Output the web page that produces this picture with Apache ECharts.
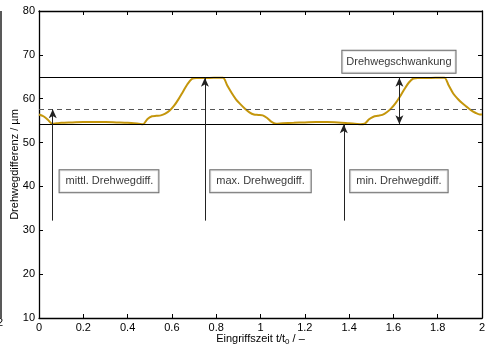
<!DOCTYPE html>
<html><head><meta charset="utf-8">
<script src="https://cdn.jsdelivr.net/npm/echarts@6/dist/echarts.min.js"></script>
<style>html,body{margin:0;padding:0;background:#fff}#c{width:486px;height:349px}</style>
</head><body><div id="c"></div>
<script>
// Curve: Eingriffszeit t/t0 and Drehwegdifferenz (µm)
const tVals = [0.00,0.02,0.04,0.06,0.08,0.10,0.15,0.20,0.25,0.30,0.35,0.40,0.45,0.47,0.49,0.51,0.53,0.55,0.57,0.59,0.61,0.63,0.65,0.67,0.69,0.71,0.75,0.79,0.83,0.85,0.87,0.89,0.91,0.93,0.95,0.97,0.99,1.01,1.03,1.05,1.07,1.10,1.15,1.20,1.25,1.30,1.35,1.40,1.45,1.47,1.49,1.51,1.53,1.55,1.57,1.59,1.61,1.63,1.65,1.67,1.69,1.71,1.75,1.79,1.83,1.85,1.87,1.89,1.91,1.93,1.95,1.97,1.99,2.00];
const dVals = [56.4,56.0,55.2,54.3,54.4,54.5,54.6,54.7,54.7,54.7,54.6,54.5,54.3,54.2,55.4,56.0,56.1,56.2,56.6,57.3,58.4,59.9,61.6,63.3,64.5,64.7,64.7,64.8,64.8,63.0,61.3,59.8,58.7,57.7,56.9,56.4,56.3,56.2,55.6,54.7,54.3,54.4,54.5,54.6,54.7,54.7,54.6,54.4,54.2,54.3,55.3,55.9,56.1,56.3,56.9,57.8,59.0,60.5,62.2,63.7,64.6,64.7,64.7,64.8,64.8,63.0,61.2,60.0,59.0,58.2,57.4,56.8,56.4,56.4];
// Reference levels
const levelMax = 64.8, levelMean = 57.6, levelMin = 54.2;
// Annotation arrows [t, yFrom, yTo]
const arrowMean = [0.062, 32.2, levelMean];
const arrowMax = [0.749, 32.2, levelMax];
const arrowMin = [1.376, 32.2, levelMin];
const arrowSwing = [1.627, levelMin, levelMax];
// Annotation boxes
const boxTexts = ['mittl. Drehwegdiff.', 'max. Drehwegdiff.', 'min. Drehwegdiff.', 'Drehwegschwankung'];
const boxT = [0.316, 1.0, 1.625, 1.625];
const boxY = [41.2, 41.2, 41.2, 68.4];
const xTicks = {min: 0, max: 2, step: 0.2};
const yTicks = {min: 10, max: 80, step: 10};

const FONT = 'Liberation Sans, Arial, sans-serif';
const chart = echarts.init(document.getElementById('c'), null, {renderer: 'canvas'});
const axisCommon = {
  axisLine: {show: true, onZero: false, lineStyle: {color: '#000', width: 1.3}},
  axisTick: {show: true, inside: true, length: 4, lineStyle: {color: '#000'}},
  splitLine: {show: false}
};
const vline = (a, sym) => [{coord: [a[0], a[1]], symbol: sym[0]}, {coord: [a[0], a[2]], symbol: sym[1]}];
const boxPad = [[6, 5, 5, 6], [6, 6, 5, 6], [6, 6, 5, 6], [6, 4, 5, 4]];
chart.setOption({
  animation: false,
  grid: {left: 39, right: 4, top: 11, bottom: 31, containLabel: false, outerBoundsMode: 'none'},
  xAxis: [
    Object.assign({type: 'value', position: 'bottom', min: xTicks.min, max: xTicks.max, interval: xTicks.step,
      name: '{a|Eingriffszeit t/t}{s|0}{a| / –}', nameLocation: 'middle', nameGap: 14, nameMoveOverlap: false,
      nameTextStyle: {rich: {a: {fontFamily: FONT, fontSize: 11, color: '#000'}, s: {fontFamily: FONT, fontSize: 8, color: '#000', verticalAlign: 'bottom', padding: [6,0,0,0]}}},
      axisLabel: {margin: 4, fontFamily: FONT, fontSize: 11, color: '#000', formatter: v => String(Number(v.toFixed(1)))}}, axisCommon),
    Object.assign({type: 'value', position: 'top', min: xTicks.min, max: xTicks.max, interval: xTicks.step,
      axisLabel: {show: false}}, axisCommon)
  ],
  yAxis: [
    Object.assign({type: 'value', position: 'left', min: yTicks.min, max: yTicks.max, interval: yTicks.step,
      name: 'Drehwegdifferenz / µm', nameLocation: 'middle', nameGap: 19, nameRotate: 90, nameMoveOverlap: false,
      nameTextStyle: {fontFamily: FONT, fontSize: 11, color: '#000'},
      axisLabel: {margin: 4, fontFamily: FONT, fontSize: 11, color: '#000'}}, axisCommon),
    Object.assign({type: 'value', position: 'right', min: yTicks.min, max: yTicks.max, interval: yTicks.step,
      axisLabel: {show: false}}, axisCommon)
  ],
  series: [
    {
      type: 'line', xAxisIndex: 0, yAxisIndex: 0, silent: true,
      data: [], markLine: {
        silent: true, animation: false, symbolSize: [7, 9], label: {show: false},
        data: [
          [{coord: [xTicks.min, levelMax], symbol: 'none', lineStyle: {color: '#000', width: 1, type: 'solid'}}, {coord: [xTicks.max, levelMax], symbol: 'none'}],
          [{coord: [xTicks.min, levelMin], symbol: 'none', lineStyle: {color: '#000', width: 1, type: 'solid'}}, {coord: [xTicks.max, levelMin], symbol: 'none'}],
          [{coord: [xTicks.min, levelMean], symbol: 'none', lineStyle: {color: '#555', width: 1, type: [5, 4]}}, {coord: [xTicks.max, levelMean], symbol: 'none'}]
        ]
      }
    },
    {
      type: 'line', xAxisIndex: 0, yAxisIndex: 0, silent: true, smooth: 0.3,
      data: tVals.map((t, i) => [t, dVals[i]]),
      showSymbol: false, symbol: 'none',
      lineStyle: {color: '#c4960c', width: 2}
    },
    {
      type: 'line', xAxisIndex: 0, yAxisIndex: 0, silent: true,
      data: [], markLine: {
        silent: true, animation: false, symbolSize: [6, 9], label: {show: false},
        lineStyle: {color: '#222', width: 1, type: 'solid'},
        data: [
          vline(arrowMean, ['none', 'arrow']),
          vline(arrowMax, ['none', 'arrow']),
          vline(arrowMin, ['none', 'arrow']),
          vline(arrowSwing, ['arrow', 'arrow'])
        ]
      }
    },
    {
      type: 'scatter', xAxisIndex: 0, yAxisIndex: 0, silent: true, symbolSize: 0,
      data: boxT.map((t, i) => ({value: [t, boxY[i]], name: boxTexts[i], label: {padding: boxPad[i]}})),
      label: {
        show: true, position: 'inside', formatter: p => p.name,
        fontFamily: FONT, fontSize: 11, color: '#000',
        backgroundColor: '#fff', borderColor: '#444', borderWidth: 1,
        padding: [6, 6, 5, 6]
      }
    }
  ],
  graphic: [
    {type: 'line', shape: {x1: 1, y1: 11, x2: 1, y2: 318}, style: {stroke: '#222', lineWidth: 1.5}, silent: true},
    {type: 'text', left: -3, top: 317, style: {text: '2', fontFamily: FONT, fontSize: 11, fill: '#000'}, silent: true}
  ]
});
</script></body></html>
